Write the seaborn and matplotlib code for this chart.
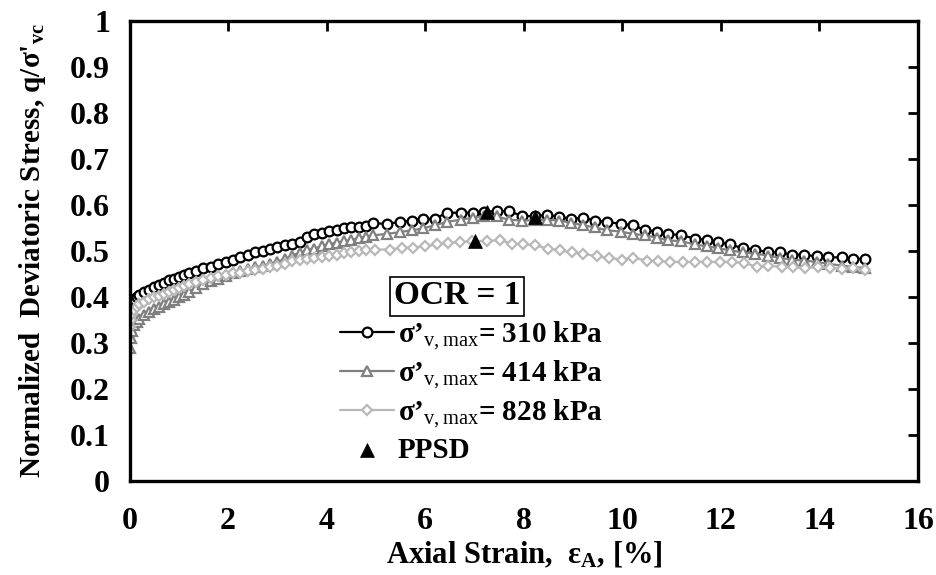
import numpy as np
import pandas as pd
import matplotlib
matplotlib.use("Agg")
import matplotlib.pyplot as plt
import seaborn as sns

# ---------------- data ----------------
x_310 = [0, 0.02, 0.05, 0.1, 0.15, 0.2, 0.3, 0.4, 0.5, 0.6, 0.7, 0.8, 0.9, 1.0, 1.1, 1.2,
         1.35, 1.5, 1.65, 1.8, 1.95, 2.1, 2.25, 2.4, 2.55, 2.7, 2.85, 3.0, 3.15, 3.3, 3.45,
         3.6, 3.75, 3.9, 4.05, 4.2, 4.35, 4.5, 4.65, 4.8, 4.95, 5.22, 5.49, 5.73, 5.96, 6.2,
         6.44, 6.72, 6.96, 7.2, 7.45, 7.69, 7.96, 8.22, 8.47, 8.72, 8.96, 9.2, 9.45, 9.68,
         9.97, 10.21, 10.46, 10.7, 10.93, 11.2, 11.47, 11.71, 11.95, 12.19, 12.44, 12.69,
         12.96, 13.2, 13.44, 13.69, 13.94, 14.18, 14.45, 14.69, 14.92]
y_310 = [0.367, 0.375, 0.385, 0.395, 0.400, 0.405, 0.411, 0.416, 0.421, 0.425, 0.430, 0.436,
         0.440, 0.444, 0.448, 0.452, 0.457, 0.462, 0.466, 0.471, 0.475, 0.480, 0.486, 0.492,
         0.497, 0.500, 0.504, 0.508, 0.512, 0.516, 0.520, 0.530, 0.536, 0.539, 0.543, 0.546,
         0.549, 0.551, 0.553, 0.555, 0.560, 0.559, 0.563, 0.566, 0.570, 0.570, 0.583, 0.583,
         0.583, 0.585, 0.587, 0.586, 0.577, 0.575, 0.579, 0.574, 0.570, 0.572, 0.566, 0.563,
         0.559, 0.556, 0.546, 0.542, 0.537, 0.534, 0.527, 0.524, 0.519, 0.514, 0.506, 0.503,
         0.497, 0.497, 0.492, 0.492, 0.488, 0.486, 0.486, 0.483, 0.483]

x_414 = [0, 0.02, 0.05, 0.1, 0.15, 0.2, 0.3, 0.4, 0.5, 0.6, 0.7, 0.8, 0.9, 1.0, 1.1, 1.2,
         1.35, 1.5, 1.65, 1.8, 1.95, 2.1, 2.25, 2.4, 2.55, 2.7, 2.85, 3.0, 3.15, 3.3, 3.45,
         3.6, 3.75, 3.9, 4.05, 4.2, 4.35, 4.5, 4.65, 4.8, 4.95, 5.22, 5.49, 5.73, 5.96, 6.2,
         6.44, 6.72, 6.96, 7.2, 7.45, 7.69, 7.96, 8.22, 8.47, 8.72, 8.96, 9.2, 9.45, 9.68,
         9.97, 10.21, 10.46, 10.7, 10.93, 11.2, 11.47, 11.71, 11.95, 12.19, 12.44, 12.69,
         12.96, 13.2, 13.44, 13.69, 13.94, 14.18, 14.45, 14.69, 14.92]
y_414 = [0.288, 0.310, 0.325, 0.338, 0.346, 0.352, 0.361, 0.368, 0.374, 0.379, 0.384, 0.389,
         0.394, 0.399, 0.404, 0.410, 0.420, 0.428, 0.434, 0.440, 0.446, 0.451, 0.456, 0.460,
         0.464, 0.468, 0.472, 0.477, 0.482, 0.490, 0.496, 0.501, 0.505, 0.511, 0.515, 0.518,
         0.521, 0.524, 0.528, 0.531, 0.534, 0.537, 0.541, 0.545, 0.549, 0.556, 0.563, 0.568,
         0.572, 0.576, 0.575, 0.568, 0.566, 0.567, 0.568, 0.566, 0.561, 0.556, 0.551, 0.545,
         0.542, 0.537, 0.534, 0.529, 0.523, 0.521, 0.514, 0.510, 0.506, 0.501, 0.497, 0.494,
         0.490, 0.485, 0.481, 0.479, 0.476, 0.472, 0.468, 0.465, 0.463]

x_828 = [0, 0.02, 0.05, 0.1, 0.15, 0.2, 0.3, 0.4, 0.5, 0.6, 0.7, 0.8, 0.9, 1.0, 1.1, 1.2,
         1.35, 1.5, 1.65, 1.8, 1.95, 2.1, 2.25, 2.4, 2.55, 2.7, 2.85, 3.0, 3.15, 3.3, 3.45,
         3.6, 3.75, 3.9, 4.05, 4.2, 4.35, 4.5, 4.65, 4.8, 4.98, 5.29, 5.52, 5.76, 6.0, 6.23,
         6.47, 6.71, 6.95, 7.25, 7.52, 7.76, 7.99, 8.23, 8.5, 8.74, 8.97, 9.21, 9.48, 9.72,
         9.99, 10.22, 10.5, 10.73, 10.97, 11.24, 11.47, 11.71, 11.98, 12.22, 12.46, 12.73,
         12.96, 13.23, 13.47, 13.71, 13.98, 14.22, 14.45, 14.69, 14.92]
y_828 = [0.335, 0.350, 0.362, 0.372, 0.379, 0.384, 0.390, 0.395, 0.399, 0.403, 0.407, 0.411,
         0.415, 0.419, 0.423, 0.428, 0.433, 0.437, 0.441, 0.445, 0.448, 0.451, 0.453, 0.456,
         0.458, 0.461, 0.464, 0.468, 0.471, 0.478, 0.480, 0.482, 0.484, 0.486, 0.489, 0.492,
         0.495, 0.497, 0.499, 0.501, 0.503, 0.503, 0.507, 0.507, 0.510, 0.514, 0.517, 0.519,
         0.521, 0.522, 0.523, 0.516, 0.514, 0.512, 0.505, 0.501, 0.497, 0.494, 0.488, 0.485,
         0.481, 0.485, 0.479, 0.478, 0.476, 0.476, 0.476, 0.476, 0.476, 0.476, 0.474, 0.466,
         0.468, 0.465, 0.465, 0.463, 0.465, 0.463, 0.461, 0.463, 0.459]

ppsd_x = [7.25, 8.23, 7.0]
ppsd_y = [0.584, 0.574, 0.521]

labels = ["\u03c3\u2019$_{\\mathrm{v,max}}$= 310 kPa",
          "\u03c3\u2019$_{\\mathrm{v,max}}$= 414 kPa",
          "\u03c3\u2019$_{\\mathrm{v,max}}$= 828 kPa",
          "PPSD"]
legend_title = "OCR = 1"
x_ticks = [0, 2, 4, 6, 8, 10, 12, 14, 16]
y_ticks = [0, 0.1, 0.2, 0.3, 0.4, 0.5, 0.6, 0.7, 0.8, 0.9, 1.0]
y_tick_labels = ["0", "0.1", "0.2", "0.3", "0.4", "0.5", "0.6", "0.7", "0.8", "0.9", "1"]
x_label = "Axial Strain,  \u03b5$_{\\mathbf{A}}$, [%]"
y_label = "Normalized  Deviatoric Stress, q/\u03c3'$_{\\mathbf{vc}}$"

# ---------------- style ----------------
sns.set_theme(style="white")
plt.rcParams["font.family"] = ["Liberation Serif", "DejaVu Serif"]
plt.rcParams["font.weight"] = "bold"
plt.rcParams["text.color"] = "black"
plt.rcParams["axes.labelcolor"] = "black"
plt.rcParams["xtick.color"] = "black"
plt.rcParams["ytick.color"] = "black"
plt.rcParams["mathtext.fontset"] = "custom"
plt.rcParams["mathtext.rm"] = "Liberation Serif:normal"
plt.rcParams["mathtext.it"] = "Liberation Serif:italic"
plt.rcParams["mathtext.bf"] = "Liberation Serif:bold"
plt.rcParams["mathtext.default"] = "rm"

fig = plt.figure(figsize=(9.36, 5.75), dpi=100)
ax = fig.add_axes([0.1384, 0.1635, 0.8424, 0.8002])

series = [
    (x_310, y_310, labels[0], "black", "o", 7.0),
    (x_414, y_414, labels[1], "#808080", "^", 7.0),
    (x_828, y_828, labels[2], "#b8b8b8", "D", 5.2),
]
for xs, ys, lab, col, mk, ms in series:
    sns.lineplot(x=xs, y=ys, ax=ax, color=col, linewidth=1.6, marker=mk,
                 markersize=ms, markerfacecolor="white", markeredgecolor=col,
                 markeredgewidth=1.6, sort=False, estimator=None, label=lab)

sns.scatterplot(x=ppsd_x, y=ppsd_y, ax=ax, marker="^", color="black", s=100,
                edgecolor="black", linewidth=0.5, label=labels[3], zorder=5)

ax.set_xlim(0, 16)
ax.set_ylim(0, 1)
ax.set_xticks(x_ticks)
ax.set_yticks(y_ticks)
ax.set_yticklabels(y_tick_labels)
ax.tick_params(direction="in", length=7, width=2, labelsize=23, top=True, right=True,
               labeltop=False, labelright=False, colors="black")
ax.tick_params(axis="y", pad=14)
ax.tick_params(axis="x", pad=19)
for lab in ax.get_xticklabels() + ax.get_yticklabels():
    lab.set_fontweight("bold")
for sp in ax.spines.values():
    sp.set_linewidth(2.4)
    sp.set_color("black")
ax.set_xlabel(x_label, fontsize=22, fontweight="bold", labelpad=3, color="black")
ax.set_ylabel(y_label, fontsize=21, fontweight="bold", labelpad=16, color="black")

handles, labs = ax.get_legend_handles_labels()
leg = ax.legend(handles, labs, loc="upper left", bbox_to_anchor=(325 / 936, 1 - 305 / 575),
                bbox_transform=fig.transFigure, frameon=False,
                prop={"family": "Liberation Serif", "weight": "bold", "size": 21},
                handlelength=1.85, handletextpad=0.15, labelspacing=0.22, borderpad=0)
for t in leg.get_texts():
    t.set_color("black")

fig.text(457 / 936, 1 - 296 / 575, legend_title, ha="center", va="center", fontsize=24,
         fontweight="bold", color="black",
         bbox=dict(boxstyle="square,pad=0.12", facecolor="white", edgecolor="black", linewidth=1.2))

fig.savefig("out.png", dpi=100)
